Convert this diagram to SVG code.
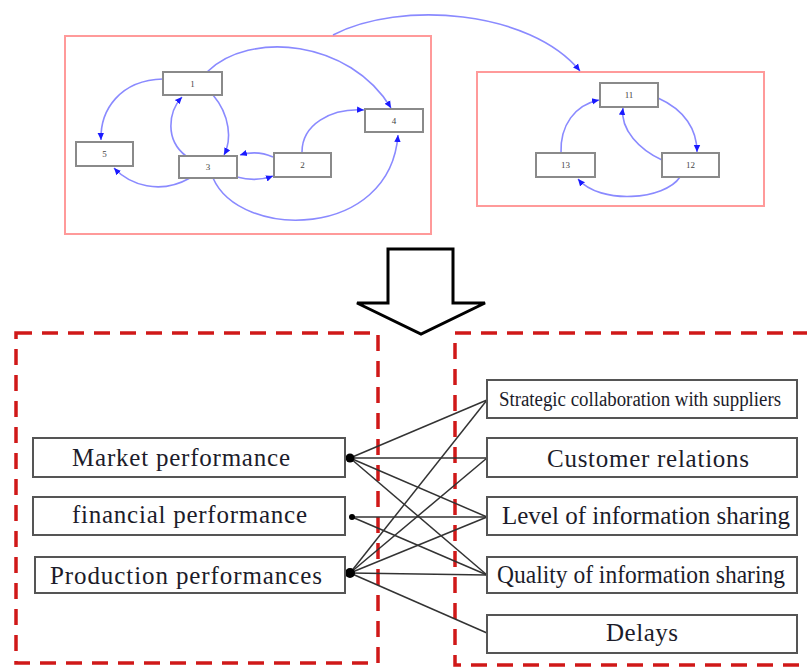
<svg xmlns="http://www.w3.org/2000/svg" width="807" height="667" viewBox="0 0 807 667">
  <style>
    .cluster { fill: none; stroke: #ff9a9a; stroke-width: 2; }
    .gnode rect { fill: #fff; stroke: #8a8a8a; stroke-width: 2; }
    .gnode text { font-family: "Liberation Serif", serif; font-size: 9px; fill: #444; text-anchor: middle; }
    .gedge { fill: none; stroke: #8a8aff; stroke-width: 1.6; marker-end: url(#blueHead); }
    .group { fill: none; stroke: #d01818; stroke-width: 3.5; stroke-dasharray: 16 10; }
    .box rect { fill: #fff; stroke: #555; stroke-width: 2; }
    .box text { font-family: "Liberation Serif", serif; font-size: 25px; fill: #1c1c2a; text-anchor: middle; }
    .box text.small { font-size: 20px; }
    .link { stroke: #333; stroke-width: 1.5; fill: none; }
  </style>
  <defs>
    <marker id="blueHead" markerWidth="8" markerHeight="8" refX="7" refY="4" orient="auto" markerUnits="userSpaceOnUse">
      <path d="M0,0.8 L7,4 L0,7.2 Z" fill="#1a1aff"/>
    </marker>
  </defs>

  <!-- upper graph: clusters -->
  <rect class="cluster" x="65" y="36" width="366" height="198"/>
  <rect class="cluster" x="477" y="72" width="287" height="134"/>

  <!-- upper graph: edges -->
  <g id="graph-edges">
    <path class="gedge" d="M163,79 C120,80 100,110 101,140"/>
    <path class="gedge" d="M190,178 C160,195 130,185 114,168"/>
    <path class="gedge" d="M213,95 C230,115 232,140 224,155"/>
    <path class="gedge" d="M186,156 C165,140 168,112 182,97"/>
    <path class="gedge" d="M273,157 C262,152 250,152 240,155"/>
    <path class="gedge" d="M237,177 C248,180 262,180 273,176"/>
    <path class="gedge" d="M207,72 C250,30 350,40 391,108"/>
    <path class="gedge" d="M302,152 C302,125 330,108 364,110"/>
    <path class="gedge" d="M213,178 C240,240 390,240 398,135"/>
    <path class="gedge" d="M333,35 C400,0 530,10 580,71"/>
    <path class="gedge" d="M658,98 C685,110 697,130 697,152"/>
    <path class="gedge" d="M662,160 C640,150 620,130 623,108"/>
    <path class="gedge" d="M680,177 C665,200 600,205 578,179"/>
    <path class="gedge" d="M561,153 C560,125 575,105 599,100"/>
  </g>

  <!-- upper graph: nodes -->
  <g id="n1" class="gnode"><rect x="163" y="72" width="59" height="23"/><text x="192.5" y="87">1</text></g>
  <g id="n2" class="gnode"><rect x="274" y="153" width="57" height="24"/><text x="302.5" y="168">2</text></g>
  <g id="n3" class="gnode"><rect x="179" y="156" width="58" height="22"/><text x="208" y="170">3</text></g>
  <g id="n4" class="gnode"><rect x="365" y="109" width="58" height="23"/><text x="394" y="124">4</text></g>
  <g id="n5" class="gnode"><rect x="76" y="142" width="57" height="24"/><text x="104.5" y="157">5</text></g>
  <g id="n11" class="gnode"><rect x="600" y="83" width="58" height="24"/><text x="629" y="98">11</text></g>
  <g id="n12" class="gnode"><rect x="662" y="153" width="57" height="24"/><text x="690.5" y="168">12</text></g>
  <g id="n13" class="gnode"><rect x="536" y="153" width="59" height="24"/><text x="565.5" y="168">13</text></g>

  <!-- transition arrow -->
  <path d="M388,249 L453,249 L453,303 L485,303 L421,334 L357,303 L388,303 Z" fill="#fff" stroke="#000" stroke-width="3" stroke-linejoin="miter"/>

  <!-- lower part: dashed groups -->
  <rect class="group" x="16" y="333" width="362" height="330"/>
  <rect class="group" x="455" y="333" width="370" height="332"/>

  <!-- lower part: links -->
  <g id="links">
    <line class="link" x1="350" y1="458" x2="487" y2="400"/>
    <line class="link" x1="350" y1="458" x2="487" y2="458" stroke-width="2.5"/>
    <line class="link" x1="350" y1="458" x2="487" y2="517"/>
    <line class="link" x1="350" y1="458" x2="487" y2="575"/>
    <line class="link" x1="352" y1="517" x2="487" y2="517" stroke-width="2"/>
    <line class="link" x1="352" y1="517" x2="487" y2="575"/>
    <line class="link" x1="350" y1="573" x2="487" y2="400"/>
    <line class="link" x1="350" y1="573" x2="487" y2="458"/>
    <line class="link" x1="350" y1="573" x2="487" y2="517"/>
    <line class="link" x1="350" y1="573" x2="487" y2="575"/>
    <line class="link" x1="350" y1="573" x2="487" y2="633"/>
    <circle cx="350" cy="458" r="4.5" fill="#000"/>
    <circle cx="352" cy="517" r="3" fill="#000"/>
    <circle cx="350" cy="573" r="5" fill="#000"/>
  </g>

  <!-- lower part: nodes -->
  <g id="market" class="box"><rect x="33" y="438" width="312" height="39"/><text x="181" y="466" textLength="218" lengthAdjust="spacing">Market performance</text></g>
  <g id="financial" class="box"><rect x="33" y="497" width="312" height="38"/><text x="189.5" y="523" textLength="235" lengthAdjust="spacing">financial performance</text></g>
  <g id="production" class="box"><rect x="35" y="557" width="310" height="36"/><text x="186" y="584" textLength="272" lengthAdjust="spacing">Production performances</text></g>

  <g id="strategic" class="box"><rect x="487" y="380" width="310" height="38"/><text class="small" x="640" y="406" textLength="282" lengthAdjust="spacingAndGlyphs">Strategic collaboration with suppliers</text></g>
  <g id="customer" class="box"><rect x="487" y="438" width="310" height="39"/><text x="648" y="467" textLength="202" lengthAdjust="spacing">Customer relations</text></g>
  <g id="level" class="box"><rect x="487" y="497" width="310" height="38"/><text x="646" y="524" textLength="288" lengthAdjust="spacing">Level of information sharing</text></g>
  <g id="quality" class="box"><rect x="487" y="557" width="310" height="36"/><text x="641" y="583" textLength="288" lengthAdjust="spacingAndGlyphs">Quality of information sharing</text></g>
  <g id="delays" class="box"><rect x="487" y="615" width="310" height="38"/><text x="642" y="641" textLength="72" lengthAdjust="spacing">Delays</text></g>
</svg>
